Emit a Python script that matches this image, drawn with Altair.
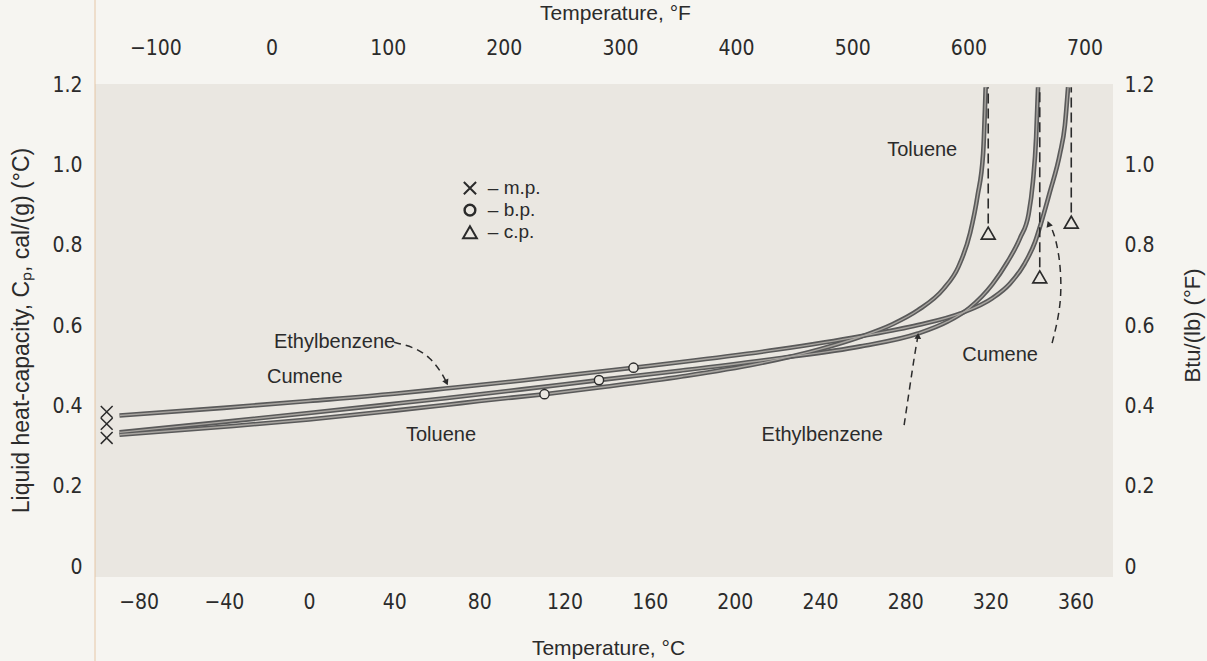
import altair as alt
import pandas as pd

# ---------------------------------------------------------------------------
# Liquid heat capacity of toluene, ethylbenzene and cumene, cal/(g)(°C),
# against temperature in °C.  Each curve runs from the melting point to the
# critical point, where it turns vertical.
# ---------------------------------------------------------------------------
toluene_t = [-89, -40, 0, 40, 64, 80, 110.6, 140, 175, 210, 240, 259, 274, 286, 298, 305,
             310.5, 314, 316.6, 317.8]
toluene_cp = [0.33, 0.35, 0.368, 0.39, 0.404, 0.414, 0.431, 0.45, 0.475, 0.506, 0.543,
              0.574, 0.605, 0.64, 0.693, 0.748, 0.832, 0.925, 1.03, 1.195]

ethylbenzene_t = [-89, -40, 0, 40, 64, 100, 136.2, 175, 220, 259, 286, 300, 310, 321, 328,
                  334, 338, 340, 341.5, 342.4]
ethylbenzene_cp = [0.336, 0.362, 0.384, 0.407, 0.421, 0.443, 0.466, 0.49, 0.52, 0.55, 0.582,
                   0.612, 0.645, 0.705, 0.76, 0.82, 0.88, 0.96, 1.07, 1.195]

cumene_t = [-89, -40, 0, 40, 64, 100, 152.4, 175, 220, 259, 286, 306, 321, 329, 336, 341,
            344, 348, 352.7, 355, 356.5]
cumene_cp = [0.378, 0.397, 0.414, 0.432, 0.445, 0.465, 0.497, 0.511, 0.542, 0.575, 0.603,
             0.632, 0.67, 0.705, 0.755, 0.81, 0.86, 0.935, 1.03, 1.10, 1.195]

# melting points (x), boiling points (o), critical points (triangle)
mp_t = [-95, -95, -95]
mp_cp = [0.387, 0.357, 0.322]
bp_t = [110.6, 136.2, 152.4]
bp_cp = [0.431, 0.466, 0.497]
crit_t = [319.0, 343.2, 358.0]
crit_cp = [0.832, 0.723, 0.859]
crit_top = 1.195

# curve names written on the plot
label_text = ["Ethylbenzene", "Cumene", "Toluene", "Toluene", "Cumene", "Ethylbenzene"]
label_t = [12, -2, 62, 288, 324.6, 241]
label_cp = [0.56, 0.475, 0.33, 1.038, 0.528, 0.33]

# dashed leader arrows from names to curves
arrow_id = ["eb1"] * 5 + ["eb2"] * 4 + ["cu"] * 5
arrow_t = [40.0, 49.5, 57.0, 62.0, 64.6,
           279.5, 282.3, 284.6, 286.0,
           349.0, 353.7, 352.8, 349.5, 347.4]
arrow_cp = [0.56, 0.548, 0.522, 0.487, 0.46,
            0.354, 0.454, 0.535, 0.576,
            0.558, 0.658, 0.772, 0.84, 0.855]
head_t = [64.6, 286.0, 347.4]
head_cp = [0.46, 0.576, 0.855]
head_angle = [155, 3, 340]

# key for the point symbols
key_sym = ["mp", "bp", "cp"]
key_text = ["– m.p.", "– b.p.", "– c.p."]
key_t = [75.6, 75.6, 75.6]
key_text_t = [84.0, 84.0, 84.0]
key_cp = [0.944, 0.889, 0.834]

# axes
c_ticks = [-80, -40, 0, 40, 80, 120, 160, 200, 240, 280, 320, 360]
f_ticks = [-100, 0, 100, 200, 300, 400, 500, 600, 700]
cp_ticks = [0, 0.2, 0.4, 0.6, 0.8, 1.0, 1.2]
C_DOMAIN = [-100.5, 377.6]
F_DOMAIN = [-152.0, 724.5]
CP_DOMAIN = [-0.024, 1.203]

INK = "#2b2b2b"
PAPER = "#f6f5f1"
PANEL = "#eae7e1"
NUM_FONT = "Liberation Sans Narrow, DejaVu Sans Condensed, Liberation Sans, sans-serif"
TXT_FONT = "Liberation Sans, Arial, sans-serif"

X_MARK = "M -1 -1 L 1 1 M -1 1 L 1 -1"

# ---------------------------------------------------------------------------
curves = pd.concat([
    pd.DataFrame({"compound": "Toluene", "t": toluene_t, "cp": toluene_cp}),
    pd.DataFrame({"compound": "Ethylbenzene", "t": ethylbenzene_t, "cp": ethylbenzene_cp}),
    pd.DataFrame({"compound": "Cumene", "t": cumene_t, "cp": cumene_cp}),
], ignore_index=True)
curves["i"] = range(len(curves))

xs = alt.Scale(domain=C_DOMAIN, nice=False, zero=False)
ys = alt.Scale(domain=CP_DOMAIN, nice=False, zero=False)

x_axis = alt.Axis(
    values=c_ticks, labelExpr="datum.value < 0 ? '\u2212' + abs(datum.value) : datum.value",
    ticks=False, domain=False, grid=False, labelFont=NUM_FONT, labelFontSize=21,
    labelColor=INK, labelPadding=14, title="Temperature, °C", titleFont=TXT_FONT,
    titleFontSize=21, titleFontWeight="normal", titleColor=INK, titleX=513, titleY=71,
    titleBaseline="middle", titleAlign="center",
)
y_axis = alt.Axis(
    values=cp_ticks, labelExpr="datum.value == 0 ? '0' : format(datum.value, '.1f')",
    ticks=False, domain=False, grid=False, labelFont=NUM_FONT, labelFontSize=21,
    labelColor=INK, labelPadding=13, title="Liquid heat-capacity, C\u209a, cal/(g) (°C)",
    titleFont=TXT_FONT, titleFontSize=23, titleFontWeight="normal", titleColor=INK,
    titleX=-74, titleY=246, titleAngle=270, titleBaseline="middle", titleAlign="center",
)


def X(field):
    return alt.X(field, type="quantitative", scale=xs, axis=x_axis)


def Y(field):
    return alt.Y(field, type="quantitative", scale=ys, axis=y_axis)


base = alt.Chart(curves)
outer = base.mark_line(color="#5a5a5a", strokeWidth=4.6, interpolate="monotone").encode(
    x=X("t"), y=Y("cp"), detail="compound:N", order="i:Q",
)
inner = base.mark_line(color="#a8a5a0", strokeWidth=1.4, interpolate="monotone").encode(
    x=X("t"), y=Y("cp"), detail="compound:N", order="i:Q",
)

crit_df = pd.DataFrame({"t": crit_t, "cp": crit_cp, "top": [crit_top] * 3})
crit_lines = alt.Chart(crit_df).transform_calculate(start="datum.cp + 0.024").mark_rule(
    color=INK, strokeWidth=1.6, strokeDash=[10, 5]
).encode(x=X("t"), y=Y("start"), y2="top")

arrows = alt.Chart(pd.DataFrame({"id": arrow_id, "t": arrow_t, "cp": arrow_cp,
                                 "i": range(len(arrow_t))})).mark_line(
    color=INK, strokeWidth=1.5, strokeDash=[7, 5], interpolate="basis"
).encode(x=X("t"), y=Y("cp"), detail="id:N", order="i:Q")

heads = alt.Chart(pd.DataFrame({"t": head_t, "cp": head_cp, "a": head_angle})).mark_point(
    shape="triangle-up", filled=True, color=INK, size=45, opacity=1
).encode(x=X("t"), y=Y("cp"), angle=alt.Angle("a:Q", scale=None))

mp_pts = alt.Chart(pd.DataFrame({"t": mp_t, "cp": mp_cp})).mark_point(
    shape=X_MARK, filled=False, color=INK, strokeWidth=1.5, size=140, opacity=1
).encode(x=X("t"), y=Y("cp"))

bp_pts = alt.Chart(pd.DataFrame({"t": bp_t, "cp": bp_cp})).mark_point(
    shape="circle", filled=True, fill=PANEL, stroke=INK, strokeWidth=1.4, size=85, opacity=1
).encode(x=X("t"), y=Y("cp"))

crit_pts = alt.Chart(crit_df).mark_point(
    shape="triangle-up", filled=True, fill=PANEL, stroke=INK, strokeWidth=1.7, size=190, opacity=1
).encode(x=X("t"), y=Y("cp"))

labels = alt.Chart(pd.DataFrame({"s": label_text, "t": label_t, "cp": label_cp})).mark_text(
    font=TXT_FONT, fontSize=20, color=INK, align="center", baseline="middle"
).encode(x=X("t"), y=Y("cp"), text="s:N")

key_df = pd.DataFrame({"sym": key_sym, "s": key_text, "t": key_t, "tt": key_text_t, "cp": key_cp})
key_x = alt.Chart(key_df[key_df.sym == "mp"]).mark_point(
    shape=X_MARK, filled=False, color=INK, strokeWidth=2.0, size=150, opacity=1
).encode(x=X("t"), y=Y("cp"))
key_o = alt.Chart(key_df[key_df.sym == "bp"]).mark_point(
    shape="circle", filled=False, color=INK, strokeWidth=2.4, size=115, opacity=1
).encode(x=X("t"), y=Y("cp"))
key_tri = alt.Chart(key_df[key_df.sym == "cp"]).mark_point(
    shape="triangle-up", filled=False, color=INK, strokeWidth=2.0, size=190, opacity=1
).encode(x=X("t"), y=Y("cp"))
key_txt = alt.Chart(key_df).mark_text(
    font=TXT_FONT, fontSize=19, color=INK, align="left", baseline="middle"
).encode(x=X("tt"), y=Y("cp"), text="s:N")

# faint paper edge along the left side of the panel
edge = alt.Chart(pd.DataFrame({"t": [C_DOMAIN[0]]})).mark_rule(
    color="#e2bf98", strokeWidth=1.5, opacity=0.55, clip=False
).encode(x=X("t"), y=alt.value(-84), y2=alt.value(577))

main = alt.layer(edge, outer, inner, crit_lines, arrows, heads, mp_pts, bp_pts, crit_pts,
                 labels, key_x, key_o, key_tri, key_txt)

# °F scale along the top and Btu/(lb)(°F) scale on the right
f_df = pd.DataFrame({"f": f_ticks, "cp": [0.0] * len(f_ticks)})
secondary = alt.Chart(f_df).mark_point(opacity=0).encode(
    x=alt.X("f:Q", scale=alt.Scale(domain=F_DOMAIN, nice=False, zero=False),
            axis=alt.Axis(orient="top", values=f_ticks,
                          labelExpr="datum.value < 0 ? '\u2212' + abs(datum.value) : datum.value",
                          ticks=False, domain=False, grid=False, labelFont=NUM_FONT,
                          labelFontSize=21, labelColor=INK, labelPadding=26,
                          title="Temperature, °F", titleFont=TXT_FONT, titleFontSize=21,
                          titleFontWeight="normal", titleColor=INK, titleX=520, titleY=-71,
                          titleBaseline="middle", titleAlign="center")),
    y=alt.Y("cp:Q", scale=alt.Scale(domain=CP_DOMAIN, nice=False, zero=False),
            axis=alt.Axis(orient="right", values=cp_ticks,
                          labelExpr="datum.value == 0 ? '0' : format(datum.value, '.1f')",
                          ticks=False, domain=False, grid=False, labelFont=NUM_FONT,
                          labelFontSize=21, labelColor=INK, labelPadding=11,
                          title="Btu/(lb) (°F)", titleFont=TXT_FONT, titleFontSize=22,
                          titleFontWeight="normal", titleColor=INK, titleX=79, titleY=241,
                          titleAngle=270, titleBaseline="middle", titleAlign="center")),
)

chart = alt.layer(main, secondary).resolve_scale(x="independent", y="independent").properties(
    width=1018, height=493,
    padding={"left": 95, "top": 84, "right": 94, "bottom": 84},
    autosize=alt.AutoSizeParams(type="none"),
    background=PAPER,
).configure_view(fill=PANEL, stroke=None)

chart.save("out.html", embed_options={"renderer": "svg", "actions": False})
